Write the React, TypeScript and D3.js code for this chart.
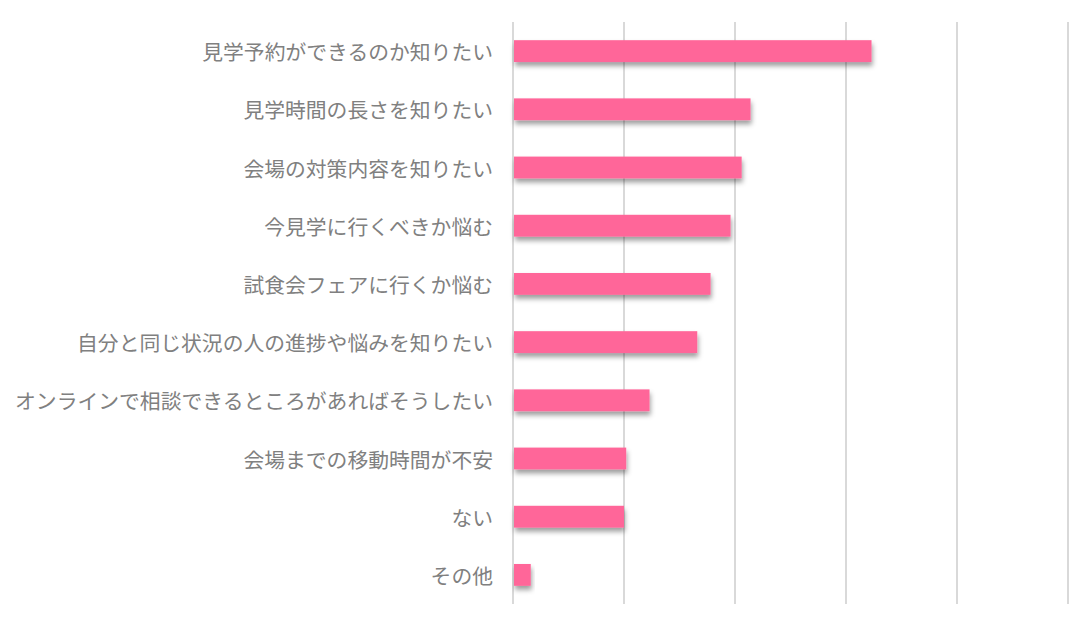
import React from "react";
import * as d3 from "d3";

const categories = [
  "見学予約ができるのか知りたい",
  "見学時間の長さを知りたい",
  "会場の対策内容を知りたい",
  "今見学に行くべきか悩む",
  "試食会フェアに行くか悩む",
  "自分と同じ状況の人の進捗や悩みを知りたい",
  "オンラインで相談できるところがあればそうしたい",
  "会場までの移動時間が不安",
  "ない",
  "その他",
];
const values = [32.3, 21.4, 20.6, 19.6, 17.8, 16.6, 12.3, 10.2, 10.0, 1.6];
const gridTicks = [0, 10, 20, 30, 40, 50];

const W = 1091;
const H = 627;
const left = 513;
const right = 1068;
const top = 22;
const bottom = 604;

export default function App() {
  const x = d3.scaleLinear().domain([0, 50]).range([left, right]);
  const y = d3
    .scaleBand<string>()
    .domain(categories)
    .range([top, bottom])
    .paddingInner(0.625)
    .paddingOuter(0.3125);
  const bh = y.bandwidth();
  return (
    <svg
      width={W}
      height={H}
      style={{ position: "absolute", left: 0, top: 0, background: "#fff" }}
    >
      <defs>
        <filter id="sh" x="-10%" y="-50%" width="130%" height="250%">
          <feDropShadow dx="1" dy="4" stdDeviation="2.6" floodColor="#000" floodOpacity="0.38" />
        </filter>
      </defs>
      {gridTicks.map((t) => (
        <line
          key={t}
          x1={x(t)}
          x2={x(t)}
          y1={top}
          y2={bottom}
          stroke="#d9d9d9"
          strokeWidth={2}
        />
      ))}
      {categories.map((c, i) => (
        <g key={c}>
          <rect
            x={x(0) + 1}
            y={y(c)!}
            width={x(values[i]) - x(0) - 1}
            height={bh}
            fill="#ff6699"
            filter="url(#sh)"
          />
          <text
            x={493}
            y={y(c)! + bh / 2}
            textAnchor="end"
            dominantBaseline="central"
            fill="#808080"
            fontSize={20.8}
            fontFamily="'Noto Sans CJK JP', sans-serif"
          >
            {c}
          </text>
        </g>
      ))}
    </svg>
  );
}
